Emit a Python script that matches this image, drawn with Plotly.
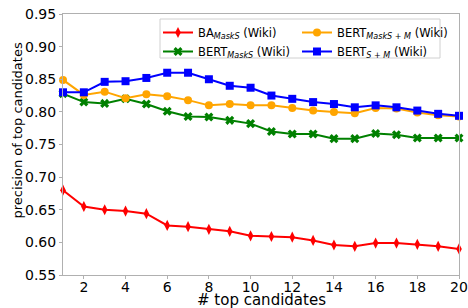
import plotly.graph_objects as go

k = list(range(1, 21))
ba_masks = [0.680, 0.655, 0.650, 0.648, 0.644, 0.626, 0.624, 0.620, 0.617, 0.610,
            0.609, 0.608, 0.603, 0.596, 0.594, 0.599, 0.599, 0.597, 0.594, 0.590]
bert_masks = [0.828, 0.815, 0.813, 0.820, 0.812, 0.801, 0.793, 0.792, 0.787, 0.782,
              0.770, 0.766, 0.766, 0.759, 0.759, 0.767, 0.765, 0.760, 0.760, 0.760]
bert_masks_m = [0.849, 0.826, 0.831, 0.821, 0.827, 0.824, 0.818, 0.810, 0.812, 0.810,
                0.810, 0.806, 0.802, 0.800, 0.798, 0.806, 0.805, 0.799, 0.795, 0.793]
bert_s_m = [0.830, 0.830, 0.846, 0.847, 0.852, 0.860, 0.860, 0.850, 0.840, 0.837,
            0.825, 0.820, 0.815, 0.812, 0.807, 0.810, 0.807, 0.802, 0.797, 0.794]
x_ticks = list(range(2, 21, 2))
y_ticks = [0.55, 0.60, 0.65, 0.70, 0.75, 0.80, 0.85, 0.90, 0.95]

series = [
    ("BA<sub><i>MaskS</i></sub> (Wiki)", ba_masks, "#ff0000", "diamond-tall", "legend"),
    ("BERT<sub><i>MaskS</i></sub> (Wiki)", bert_masks, "#008000", "x", "legend"),
    ("BERT<sub><i>MaskS + M</i></sub> (Wiki)", bert_masks_m, "#ffa500", "circle", "legend2"),
    ("BERT<sub><i>S + M</i></sub> (Wiki)", bert_s_m, "#0000ff", "square", "legend2"),
]

fig = go.Figure()
for name, vals, col, sym, leg in series:
    fig.add_trace(go.Scatter(
        x=k, y=vals, name=name, mode="lines+markers",
        line=dict(color=col, width=2),
        marker=dict(symbol=sym, size=8, color=col, line=dict(width=0)),
        legend=leg, cliponaxis=False,
    ))

axis_common = dict(
    showline=True, linecolor="#b0b0b0", linewidth=1, mirror=True,
    ticks="outside", ticklen=3, tickcolor="#b0b0b0", showgrid=False,
    zeroline=False, automargin=False,
    tickfont=dict(family="DejaVu Sans", size=14, color="black"),
)

leg_common = dict(
    orientation="v", yanchor="top", y=(275 - 18) / 261, xanchor="left",
    bgcolor="rgba(0,0,0,0)", borderwidth=0, tracegroupgap=0, itemwidth=30,
    font=dict(family="DejaVu Sans", size=11.5, color="black"),
)

fig.update_layout(
    width=468, height=308,
    margin=dict(l=63, r=9, t=14, b=33),
    plot_bgcolor="white", paper_bgcolor="white",
    font=dict(family="DejaVu Sans", color="black"),
    xaxis=dict(range=[1, 20], tickvals=x_ticks, ticklabelstandoff=-4, **axis_common),
    yaxis=dict(range=[0.55, 0.95], tickvals=y_ticks, tickformat=".2f", **axis_common),
    legend=dict(x=(158 - 63) / 396, **leg_common),
    legend2=dict(x=(297 - 63) / 396, **leg_common),
    showlegend=True,
    shapes=[dict(type="rect", xref="paper", yref="paper",
                 x0=(160 - 63) / 396, x1=(440 - 63) / 396,
                 y0=(275 - 58) / 261, y1=(275 - 19) / 261,
                 line=dict(color="#d0d0d0", width=1),
                 fillcolor="rgba(255,255,255,0.85)", layer="above")],
    annotations=[
        dict(text="# top candidates", xref="paper", yref="paper", x=0.5, y=(275 - 300) / 261,
             xanchor="center", yanchor="middle", showarrow=False,
             font=dict(family="DejaVu Sans", size=15, color="black")),
        dict(text="precision of top candidates", xref="paper", yref="paper",
             x=(17 - 63) / 396, y=(275 - 130.5) / 261, textangle=-90,
             xanchor="center", yanchor="middle", showarrow=False,
             font=dict(family="DejaVu Sans", size=13, color="black")),
    ],
)

fig.write_html("out.html", config={"displayModeBar": False},
               post_script="document.body.style.margin='0';document.body.style.padding='0';")
